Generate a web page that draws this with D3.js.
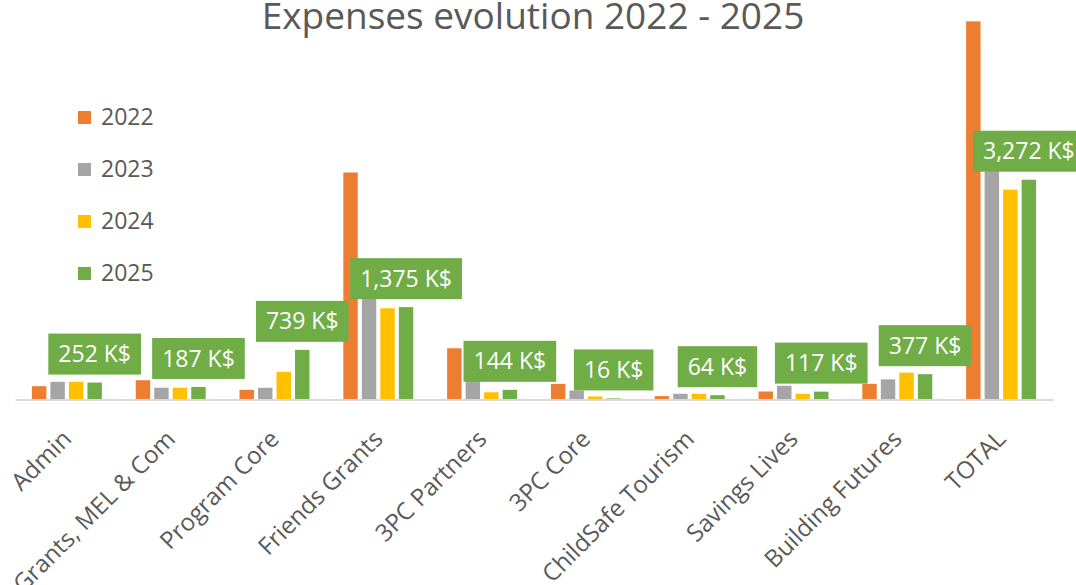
<!DOCTYPE html>
<html>
<head>
<meta charset="utf-8">
<script src="https://cdn.jsdelivr.net/npm/d3@7"></script>
<style>
  html, body { margin: 0; padding: 0; background: #fff; }
  svg { display: block; }
</style>
</head>
<body>
<svg id="chart" width="1076" height="585"></svg>
<script>
const categories = ["Admin", "Grants, MEL & Com", "Program Core", "Friends Grants", "3PC Partners", "3PC Core", "ChildSafe Tourism", "Savings Lives", "Building Futures", "TOTAL"];
const series = ["2022", "2023", "2024", "2025"];
const values2022 = [198, 287, 144, 3380, 763, 233, 50, 119, 233, 5630];
const values2023 = [263, 175, 174, 1650, 450, 134, 85, 204, 300, 3450];
const values2024 = [263, 175, 412, 1358, 108, 45, 85, 85, 400, 3124];
const values2025 = [252, 187, 739, 1375, 144, 16, 64, 117, 377, 3272];
const labels2025 = ["252 K$", "187 K$", "739 K$", "1,375 K$", "144 K$", "16 K$", "64 K$", "117 K$", "377 K$", "3,272 K$"];
const colors = ["#ED7D31", "#A5A5A5", "#FFC000", "#70AD47"];
const title = "Expenses evolution 2022 - 2025";

const allValues = [values2022, values2023, values2024, values2025];
const svg = d3.select("#chart");
const font = "'Open Sans', sans-serif";

const x0 = d3.scaleBand().domain(categories).range([15, 1053]).paddingInner(0.326).paddingOuter(0.163);
const x1 = d3.scaleBand().domain(series).range([0, x0.bandwidth()]).paddingInner(0.22);
const y = d3.scaleLinear().domain([0, 5650]).range([399.5, 20]);
const color = d3.scaleOrdinal().domain(series).range(colors);

// Title
svg.append("text")
  .attr("x", 533).attr("y", 29)
  .attr("text-anchor", "middle")
  .attr("font-family", font).attr("font-size", 37)
  .attr("fill", "#595959")
  .text(title);

// Bars
const groups = svg.append("g").selectAll("g")
  .data(categories)
  .join("g")
  .attr("transform", d => `translate(${x0(d)},0)`);

groups.selectAll("rect")
  .data((c, i) => series.map((s, j) => ({ s, v: allValues[j][i] })))
  .join("rect")
  .attr("x", d => x1(d.s))
  .attr("width", x1.bandwidth())
  .attr("y", d => y(d.v))
  .attr("height", d => y(0) - y(d.v))
  .attr("fill", d => color(d.s));

// Axis
const xAxis = d3.axisBottom(x0).tickSize(0).tickPadding(0);
const axisG = svg.append("g").attr("transform", `translate(0,${y(0)})`).call(xAxis);
axisG.select(".domain").attr("stroke", "#D9D9D9").attr("stroke-width", 2);
axisG.selectAll(".tick text")
  .attr("font-family", font).attr("font-size", 24)
  .attr("fill", "#595959")
  .attr("text-anchor", "end")
  .attr("y", 0)
  .attr("dy", "0.35em")
  .attr("transform", "translate(0,35) rotate(-45)");

// Data labels for 2025
const labelG = svg.append("g").selectAll("g")
  .data(categories)
  .join("g")
  .attr("transform", (c, i) => `translate(${x0(c) + x1("2025") + x1.bandwidth() / 2},${y(values2025[i]) - 8})`);

labelG.each(function (c, i) {
  const g = d3.select(this);
  const rect = g.append("rect").attr("fill", "#70AD47");
  const t = g.append("text")
    .attr("text-anchor", "middle")
    .attr("y", -20.5)
    .attr("dy", "0.35em")
    .attr("font-family", font).attr("font-size", 23)
    .attr("fill", "#fff")
    .text(labels2025[i]);
  const w = t.node().getComputedTextLength() + 20;
  rect.attr("x", -w / 2).attr("y", -41).attr("width", w).attr("height", 41);
});

// Legend
const legend = svg.append("g").selectAll("g")
  .data(series)
  .join("g")
  .attr("transform", (d, i) => `translate(78,${117 + i * 52})`);
legend.append("rect").attr("x", 0).attr("y", -6).attr("width", 13).attr("height", 13).attr("fill", d => color(d));
legend.append("text").attr("x", 23).attr("dy", "0.35em")
  .attr("font-family", font).attr("font-size", 23).attr("fill", "#595959")
  .text(d => d);
</script>
</body>
</html>
